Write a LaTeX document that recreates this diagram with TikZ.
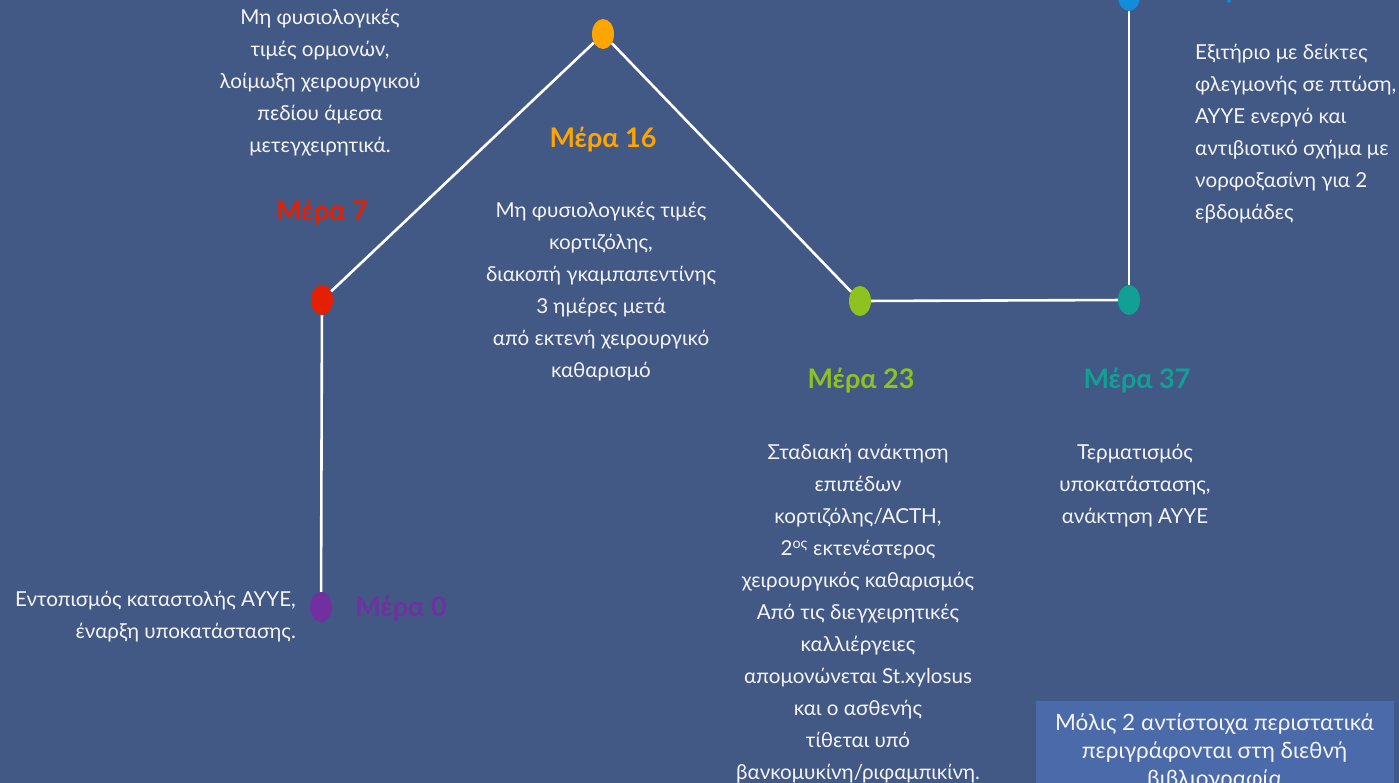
\documentclass[tikz,border=0pt]{standalone}
\usepackage{fontspec}
\setmainfont{Lato}
\usetikzlibrary{shapes.geometric}
\definecolor{bgblue}{RGB}{66,88,133}
\definecolor{boxblue}{RGB}{74,106,170}
\definecolor{cpurple}{RGB}{112,48,160}
\definecolor{cred}{RGB}{228,32,0}
\definecolor{corange}{RGB}{255,165,0}
\definecolor{cgreen}{RGB}{141,194,31}
\definecolor{cteal}{RGB}{16,160,150}
\definecolor{cblue}{RGB}{20,140,220}
\definecolor{txt}{RGB}{244,244,244}
\tikzset{
  dot/.style={ellipse, minimum width=22pt, minimum height=30pt, inner sep=0pt, fill=#1},
  link/.style={draw=white, line width=2.6pt},
  day/.style={text=#1, font=\fontsize{27}{32}\selectfont\bfseries, inner sep=0pt},
  body/.style={text=txt, font=\fontsize{20.6}{32}\selectfont, inner sep=0pt},
  small/.style={text=txt, font=\fontsize{22.5}{28}\selectfont, inner sep=0pt}
}
\begin{document}
\begin{tikzpicture}[x=1pt,y=-1pt]
\useasboundingbox (0,0) rectangle (1399,783);
\clip (0,0) rectangle (1399,783);
\fill[bgblue] (0,0) rectangle (1399,783);
% dots
\node[dot=cpurple] (d0) at (321,607) {};
\node[dot=cred] (d7) at (322,300) {};
\node[dot=corange] (d16) at (603,34) {};
\node[dot=cgreen] (d23) at (860,301) {};
\node[dot=cteal] (d37) at (1129,300) {};
\node[dot=cblue] (d46) at (1129,-4) {};
% links
\draw[link] (d0) -- (d7);
\draw[link] (d7) -- (d16);
\draw[link] (d16) -- (d23);
\draw[link] (d23) -- (d37);
\draw[link] (d37) -- (d46);
% day labels
\node[day=cpurple] (l0) at (401,609) {Μέρα 0};
\node[day=cred] (l7) at (322,213) {Μέρα 7};
\node[day=corange] (l16) at (603,140) {Μέρα 16};
\node[day=cgreen] (l23) at (861,381) {Μέρα 23};
\node[day=cteal] (l37) at (1137,381) {Μέρα 37};
\node[day=cblue] (l46) at (1242,-9) {Μέρα 46};
% texts
\node[body, align=center, anchor=north] (t7) at (320,9) {Μη φυσιολογικές\\τιμές ορμονών,\\λοίμωξη χειρουργικού\\πεδίου άμεσα\\μετεγχειρητικά.};
\node[body, align=center, anchor=north] (t16) at (601,202) {Μη φυσιολογικές τιμές\\κορτιζόλης,\\διακοπή γκαμπαπεντίνης\\3 ημέρες μετά\\από εκτενή χειρουργικό\\καθαρισμό};
\node[body, align=left, anchor=north west] (t46) at (1195,44) {Εξιτήριο με δείκτες\\φλεγμονής σε πτώση,\\ΑΥΥΕ ενεργό και\\αντιβιοτικό σχήμα με\\νορφοξασίνη για 2\\εβδομάδες};
\node[body, align=center, anchor=north] (t37) at (1135,444) {Τερματισμός\\υποκατάστασης,\\ανάκτηση ΑΥΥΕ};
\node[body, align=center, anchor=north] (t23) at (858,444) {Σταδιακή ανάκτηση\\επιπέδων\\κορτιζόλης/ACTH,\\2\textsuperscript{ος} εκτενέστερος\\χειρουργικός καθαρισμός\\Από τις διεγχειρητικές\\καλλιέργειες\\απομονώνεται St.xylosus\\και ο ασθενής\\τίθεται υπό\\βανκομυκίνη/ριφαμπικίνη.};
\node[body, align=right, anchor=north east] (t0) at (296,591) {Εντοπισμός καταστολής ΑΥΥΕ,\\έναρξη υποκατάστασης.};
% box
\node[small, align=center, anchor=north, fill=boxblue, draw=boxblue!85!black, line width=0.8pt,
      minimum width=359pt, minimum height=100pt, text depth=0pt, inner ysep=13pt] (box) at (1214.5,700)
  {Μόλις 2 αντίστοιχα περιστατικά\\περιγράφονται στη διεθνή\\βιβλιογραφία};
\end{tikzpicture}
\end{document}
